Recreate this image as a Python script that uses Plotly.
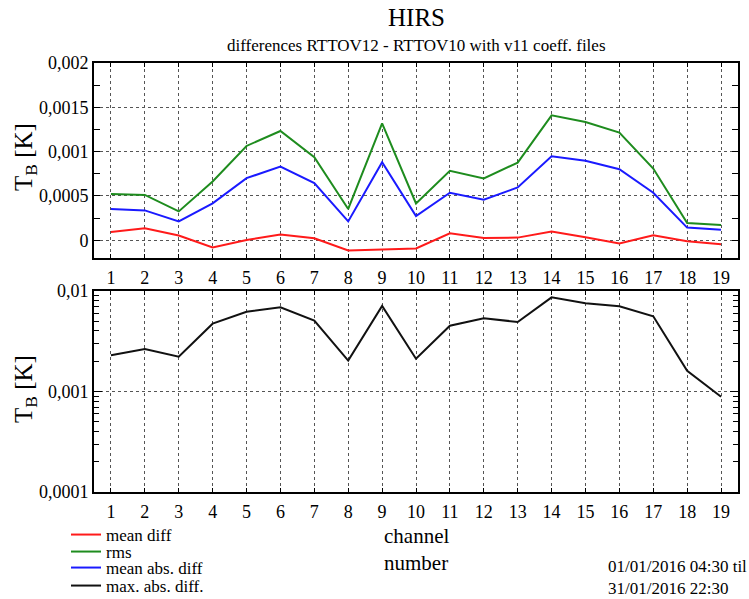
import plotly.graph_objects as go

channels = list(range(1, 20))
mean_diff = [0.000094, 0.000135, 0.000053, -0.000082, 0.000004, 0.000064, 0.000022, -0.000116, -0.000105,
             -0.000093, 0.000079, 0.000027, 0.00003, 0.000098, 0.000034, -0.000037, 0.000056, -0.000011, -0.000045]
rms = [0.000521, 0.000512, 0.000326, 0.000663, 0.001064, 0.001233, 0.000937, 0.000353, 0.00132,
       0.000416, 0.000783, 0.000697, 0.000876, 0.001409, 0.001334, 0.001214, 0.000809, 0.000195, 0.000173]
mean_abs = [0.000353, 0.000337, 0.000213, 0.000416, 0.000701, 0.000831, 0.000645, 0.000213, 0.000881,
            0.000274, 0.000536, 0.000457, 0.000596, 0.000948, 0.000896, 0.000802, 0.000536, 0.000143, 0.00012]
max_abs = [0.00229, 0.00265, 0.00222, 0.00473, 0.00622, 0.00689, 0.00507, 0.00203, 0.0071,
           0.00212, 0.00452, 0.00535, 0.00492, 0.00865, 0.00755, 0.00705, 0.0056, 0.00161, 0.000887]

top_tickvals = [0, 0.0005, 0.001, 0.0015, 0.002]
top_ticktext = ["0", "0,0005", "0,001", "0,0015", "0,002"]
bot_tickvals = [0.0001, 0.001, 0.01]
bot_ticktext = ["0,0001", "0,001", "0,01"]
bot_minor = [m * d for d in (0.0001, 0.001) for m in range(2, 10)]

FONT = "Liberation Serif"
W, H = 749, 599
x0, x1 = 94 / W, 738 / W

fig = go.Figure()
fig.add_trace(go.Scatter(x=channels, y=mean_diff, mode="lines", name="mean diff",
                         line=dict(color="#ff1a1a", width=2), xaxis="x", yaxis="y", legend="legend"))
fig.add_trace(go.Scatter(x=channels, y=rms, mode="lines", name="rms",
                         line=dict(color="#1e8c1e", width=2), xaxis="x", yaxis="y", legend="legend2"))
fig.add_trace(go.Scatter(x=channels, y=mean_abs, mode="lines", name="mean abs. diff",
                         line=dict(color="#1a1aff", width=2), xaxis="x", yaxis="y", legend="legend3"))
fig.add_trace(go.Scatter(x=channels, y=max_abs, mode="lines", name="max. abs. diff.",
                         line=dict(color="#111111", width=2), xaxis="x2", yaxis="y2", legend="legend4"))

grid = dict(showgrid=True, gridcolor="#555555", griddash="dot", gridwidth=1)
axline = dict(showline=True, linecolor="black", linewidth=2, mirror="ticks", zeroline=False, automargin=False)
tickfont = dict(family=FONT, size=18, color="black")

xcommon = dict(range=[0.5, 19.5], tickmode="array", tickvals=channels, ticks="inside", ticklen=4,
               tickcolor="black", tickfont=tickfont, ticklabelstandoff=2, **grid, **axline)


def leg(yc):
    return dict(x=66 / W, y=1 - yc / H, xanchor="left", yanchor="middle",
                font=dict(family=FONT, size=17, color="black"), tracegroupgap=0,
                bgcolor="rgba(0,0,0,0)", itemwidth=30)


fig.update_layout(
    width=W, height=H, margin=dict(l=0, r=0, t=0, b=0, autoexpand=False),
    paper_bgcolor="white", plot_bgcolor="white",
    font=dict(family=FONT, color="black"),
    showlegend=True,
    xaxis=dict(domain=[x0, x1], anchor="y", **xcommon),
    yaxis=dict(domain=[(H - 258) / H, (H - 63) / H], anchor="x", range=[-0.0002, 0.002],
               tickmode="array", tickvals=top_tickvals, ticktext=top_ticktext,
               ticks="inside", ticklen=6, tickcolor="black", tickfont=tickfont,
               minor=dict(ticks="inside", ticklen=6, dtick=0.00025, tick0=0, tickcolor="black", showgrid=False),
               **grid, **axline),
    xaxis2=dict(domain=[x0, x1], anchor="y2", **xcommon),
    yaxis2=dict(domain=[(H - 492) / H, (H - 291) / H], anchor="x2", type="log", range=[-4, -2],
                tickmode="array", tickvals=bot_tickvals, ticktext=bot_ticktext,
                ticks="inside", ticklen=8, tickcolor="black", tickfont=tickfont,
                minor=dict(ticks="inside", ticklen=5, tickcolor="black", showgrid=False,
                           tickmode="array", tickvals=bot_minor),
                **grid, **axline),
    legend=leg(535), legend2=leg(552), legend3=leg(568), legend4=leg(586),
)

cx = (x0 + x1) / 2
fig.add_annotation(text="HIRS", x=cx, y=1 - 18 / H, xref="paper", yref="paper", showarrow=False,
                   font=dict(family=FONT, size=25, color="black"), xanchor="center", yanchor="middle")
fig.add_annotation(text="differences RTTOV12 - RTTOV10 with v11 coeff. files", x=cx, y=1 - 45 / H,
                   xref="paper", yref="paper", showarrow=False,
                   font=dict(family=FONT, size=17, color="black"), xanchor="center", yanchor="middle")
for yc in (157, 389):
    fig.add_annotation(text="T<sub>B</sub> [K]", x=25 / W, y=1 - yc / H, xref="paper", yref="paper",
                       showarrow=False, textangle=-90, font=dict(family=FONT, size=25, color="black"),
                       xanchor="center", yanchor="middle")
fig.add_annotation(text="channel<br>number", x=cx, y=1 - 549 / H, xref="paper", yref="paper",
                   showarrow=False, font=dict(family=FONT, size=21, color="black"),
                   xanchor="center", yanchor="middle", align="left")
fig.add_annotation(text="01/01/2016 04:30 til<br>31/01/2016 22:30", x=606 / W, y=1 - 577 / H,
                   xref="paper", yref="paper", showarrow=False,
                   font=dict(family=FONT, size=17, color="black"),
                   xanchor="left", yanchor="middle", align="left")

fig.write_html("out.html")
